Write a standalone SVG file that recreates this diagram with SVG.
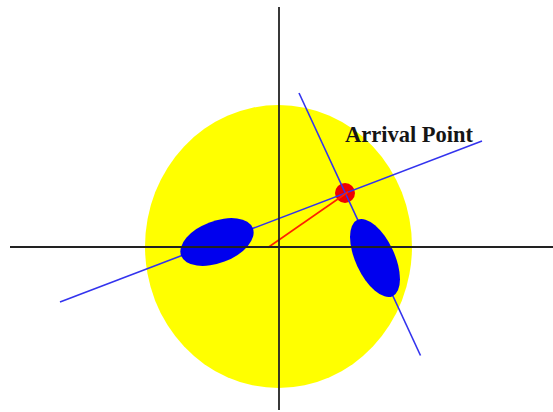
<svg xmlns="http://www.w3.org/2000/svg" width="553" height="412" viewBox="0 0 553 412">
<style>
.blue{stroke:#3333ee;stroke-width:1.6;fill:none}
.axis{stroke:#222;stroke-width:1.8;fill:none}
.lbl{font-family:"Liberation Serif","Times New Roman",serif;font-weight:bold;font-size:22.5px;fill:#151515}
</style>
<rect width="553" height="412" fill="#fff"/>
<g id="disk"><ellipse cx="278.5" cy="246.5" rx="133.5" ry="141.5" fill="#ffff00"/></g>
<g id="arrival-point"><circle cx="345" cy="193" r="10" fill="#ee0000"/></g>
<g id="connectors">
<line class="blue" x1="60" y1="302" x2="482" y2="141"/>
<line class="blue" x1="299" y1="93" x2="420.5" y2="355.5"/>
<line x1="268" y1="247.5" x2="348" y2="192" stroke="#ff2200" stroke-width="1.6"/>
</g>
<g id="blob-left"><ellipse cx="217" cy="242" rx="38.4" ry="21" transform="rotate(-20.9 217 242)" fill="#0000ee"/></g>
<g id="blob-right"><ellipse cx="375" cy="258" rx="42" ry="19.5" transform="rotate(65.2 375 258)" fill="#0000ee"/></g>
<g id="axes">
<line class="axis" x1="10" y1="247" x2="553" y2="247"/>
<line class="axis" x1="279" y1="7" x2="279" y2="410"/>
</g>
<g id="label"><text class="lbl" x="345" y="141.5">Arrival Point</text></g>
</svg>
